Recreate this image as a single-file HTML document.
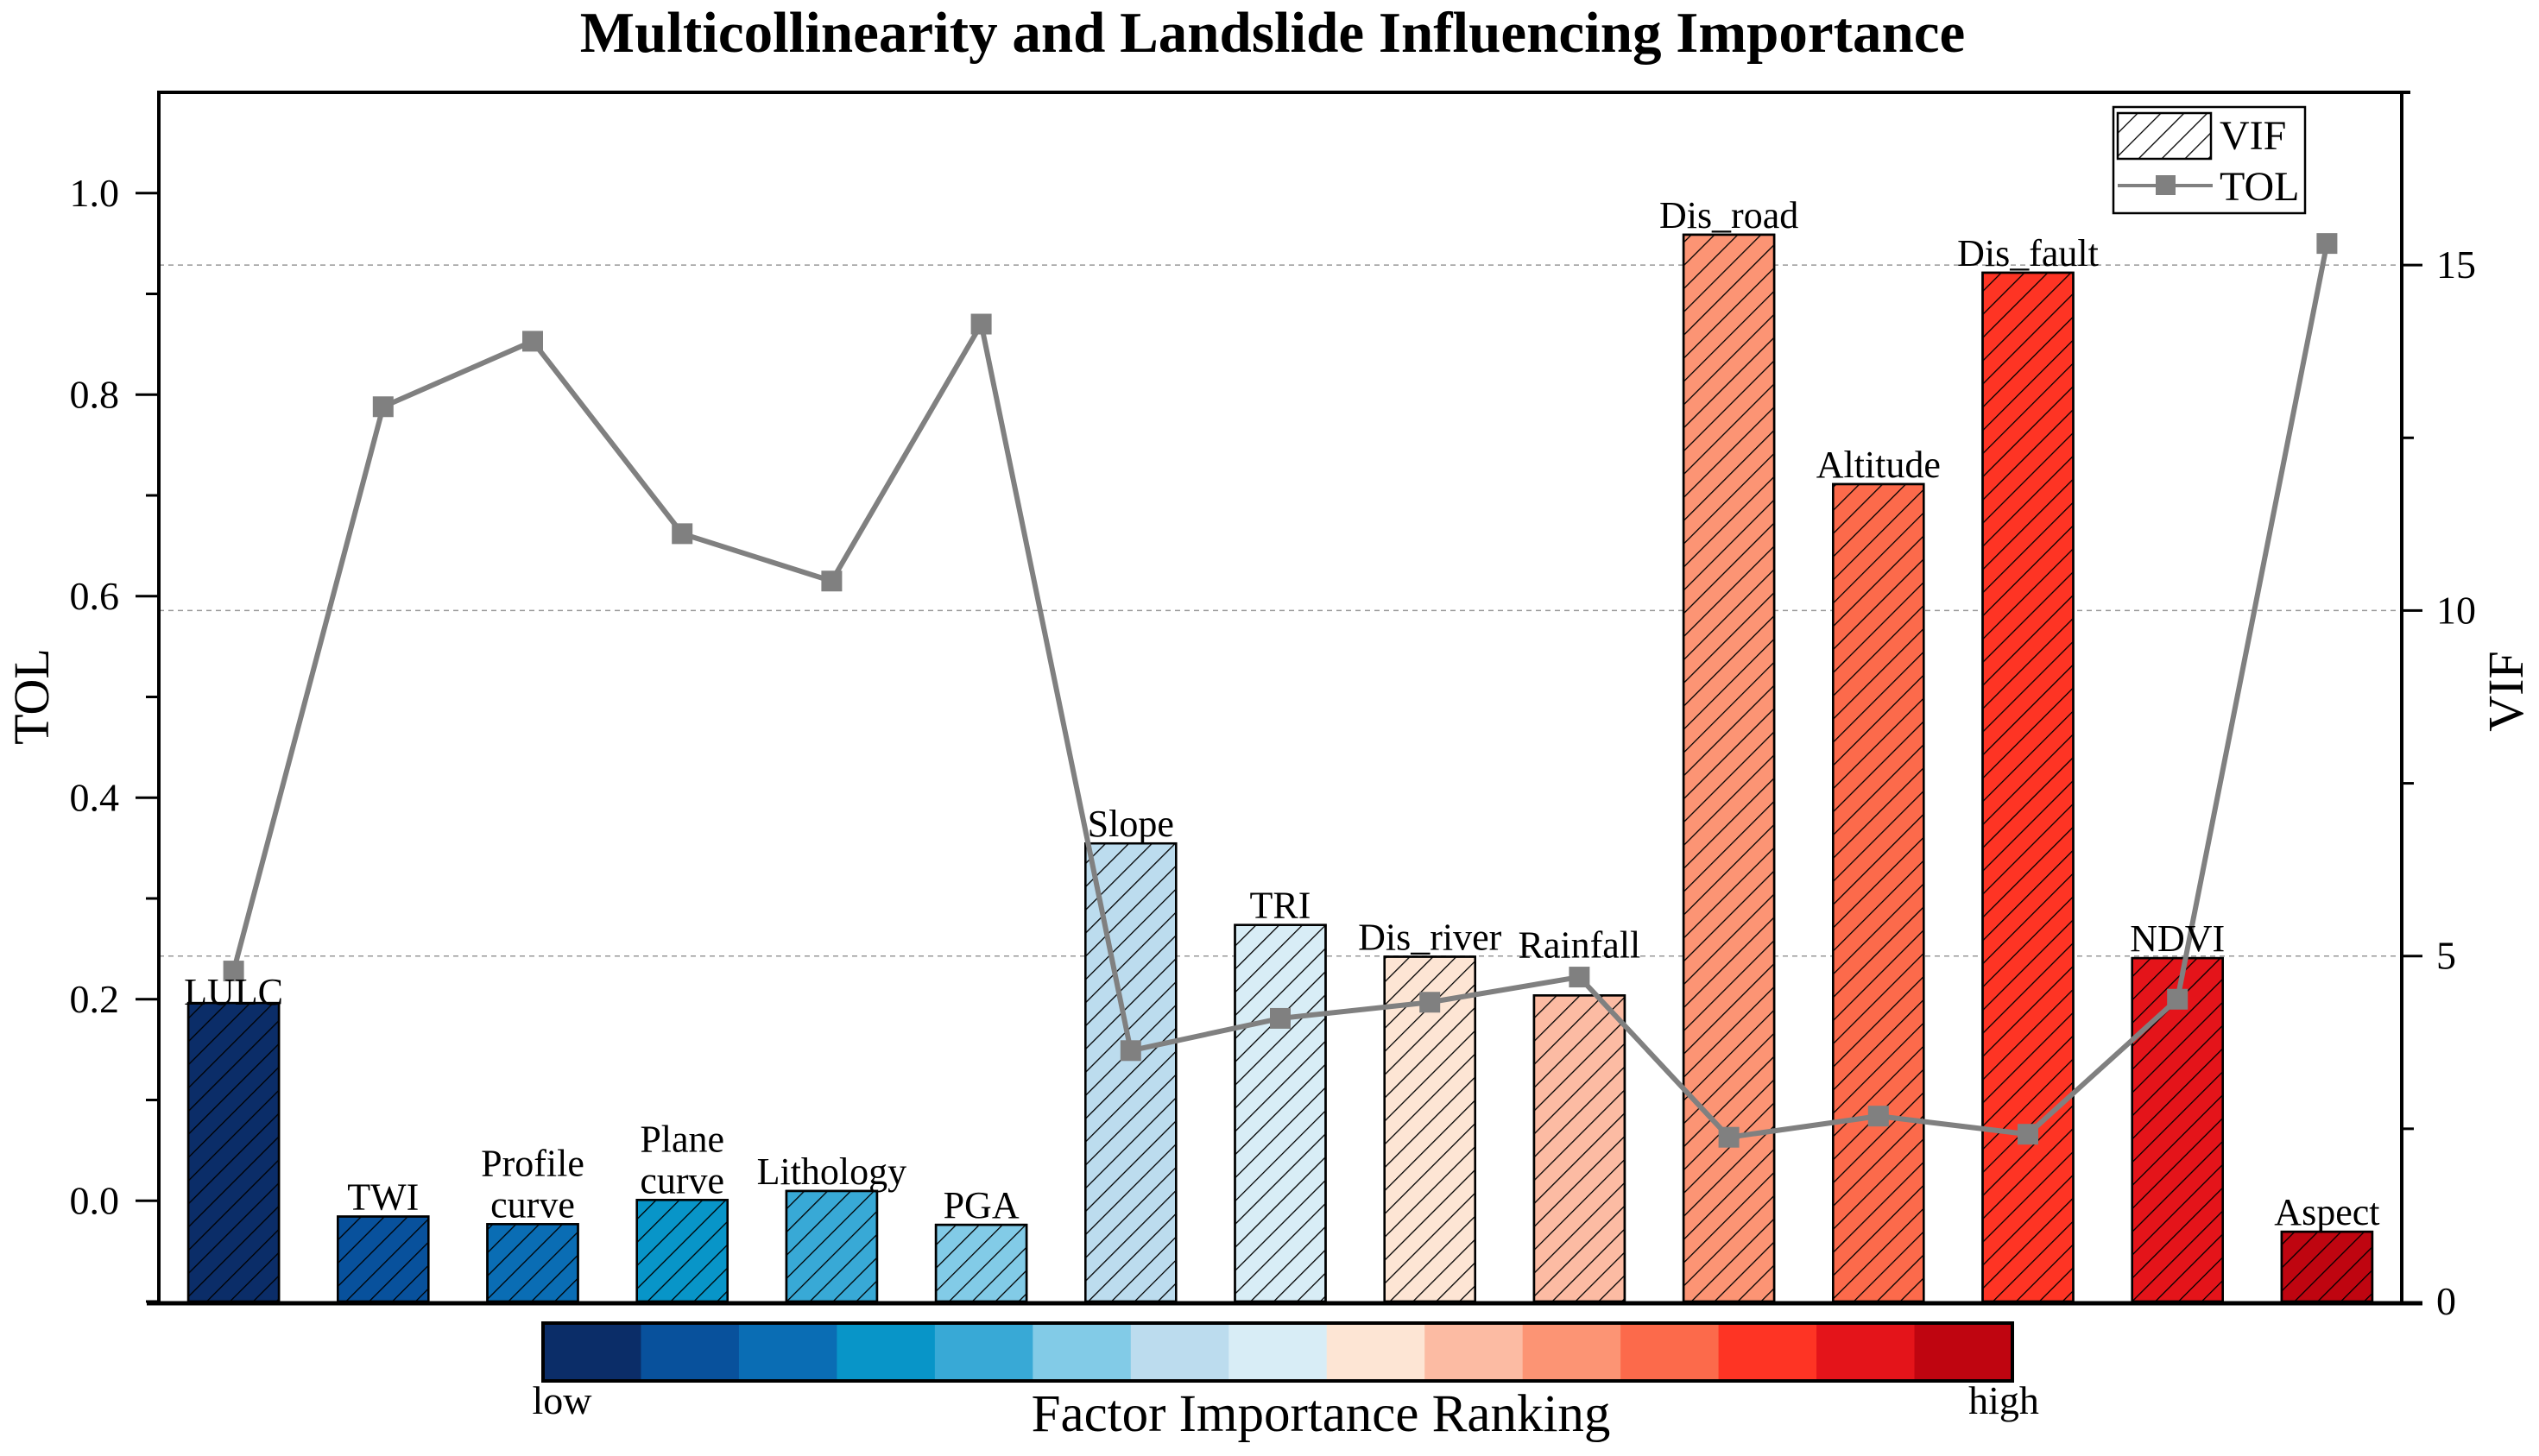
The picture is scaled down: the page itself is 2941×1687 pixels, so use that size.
<!DOCTYPE html>
<html><head><meta charset="utf-8"><style>
html,body{margin:0;padding:0;background:#fff;}
svg{display:block;}
text{font-family:"Liberation Serif",serif;fill:#000;}
</style></head><body>
<svg id="chart" width="2941" height="1687" viewBox="0 0 2941 1687" xmlns="http://www.w3.org/2000/svg">
<defs>
<pattern id="hatch" patternUnits="userSpaceOnUse" width="19" height="19" patternTransform="rotate(45)">
<line x1="0" y1="0" x2="0" y2="19" stroke="#000" stroke-width="2.6"/>
</pattern>
</defs>
<text x="1474" y="60" text-anchor="middle" font-size="67" font-weight="bold">Multicollinearity and Landslide Influencing Importance</text>
<g id="grid"></g>
<g id="bars"></g>
<g id="line"></g>
<g id="axes"></g>
<g id="labels"></g>
<g>
<rect x="2448" y="124" width="222" height="123" fill="#fff" stroke="#000" stroke-width="2.5"/>
<rect x="2453" y="131" width="108" height="53" fill="url(#hatch)" stroke="#000" stroke-width="2.5"/>
<text x="2571" y="173" font-size="48">VIF</text>
<line x1="2453" y1="215" x2="2563" y2="215" stroke="#808080" stroke-width="4"/>
<rect x="2497" y="203" width="23" height="23" fill="#808080"/>
<text x="2571" y="232" font-size="48">TOL</text>
</g>
<g id="colorbar"></g>
<text x="651" y="1638" text-anchor="middle" font-size="46">low</text>
<text x="2321" y="1638" text-anchor="middle" font-size="46">high</text>
<text x="1530" y="1658" text-anchor="middle" font-size="61">Factor Importance Ranking</text>
<text transform="translate(56,807) rotate(-90)" text-anchor="middle" font-size="58">TOL</text>
<text transform="translate(2922,801) rotate(-90)" text-anchor="middle" font-size="58">VIF</text>
</svg>
<script>
const categories=["LULC","TWI","Profile curve","Plane curve","Lithology","PGA","Slope","TRI","Dis_river","Rainfall","Dis_road","Altitude","Dis_fault","NDVI","Aspect"];
const vifValues=[4.32,1.23,1.12,1.47,1.6,1.11,6.63,5.45,4.99,4.43,15.44,11.83,14.89,4.97,1.01];
const tolValues=[0.228,0.788,0.853,0.662,0.615,0.870,0.149,0.181,0.197,0.222,0.063,0.084,0.066,0.200,0.950];
const barColors=["#0b2d68","#08519c","#0a6db4","#0895c8","#38a9d6","#82cbe7","#bcdcee","#d8edf6","#fde5d4","#fcbba3","#fc9474","#fc6a4b","#fe3424","#e4141a","#bf0510"];
const leftTicks=[0.0,0.2,0.4,0.6,0.8,1.0];
const leftTickLabels=["0.0","0.2","0.4","0.6","0.8","1.0"];
const rightTicks=[0,5,10,15];
const rightTickLabels=["0","5","10","15"];
const gridVals=[5,10,15];

const NS="http://www.w3.org/2000/svg";
const L=184,R=2782,T=107,B=1508;
const tolMin=-0.1,tolMax=1.1,vifMax=17.5;
const slot=(R-L)/categories.length, bw=105;
const xC=i=>L+slot*(i+0.5);
const yT=v=>B-(v-tolMin)/(tolMax-tolMin)*(B-T);
const yV=v=>B-v/vifMax*(B-T);
function mk(tag,attrs,parent){const e=document.createElementNS(NS,tag);for(const k in attrs)e.setAttribute(k,attrs[k]);parent.appendChild(e);return e;}
const g=id=>document.getElementById(id);

gridVals.forEach(v=>{
 const l=mk('line',{x1:L,x2:R,y1:yV(v),y2:yV(v),stroke:'#999','stroke-width':1.5,'stroke-dasharray':'6,5'},g('grid'));
 
 
});

categories.forEach((c,i)=>{
 const y=yV(vifValues[i]);
 const r=mk('rect',{x:xC(i)-bw/2,y:y,width:bw,height:B-y,fill:barColors[i],stroke:'#000','stroke-width':2.5},g('bars'));
 
 
 mk('rect',{x:xC(i)-bw/2,y:y,width:bw,height:B-y,fill:'url(#hatch)',stroke:'#000','stroke-width':2.5},g('bars'));
 const parts=c==="Profile curve"?["Profile","curve"]:c==="Plane curve"?["Plane","curve"]:[c];
 const off=c==="LULC"?-2:(c==="Rainfall"?44:8);
 parts.forEach((p,k)=>{
  const t=mk('text',{x:xC(i),y:y-off-(parts.length-1-k)*48,'text-anchor':'middle','font-size':44},g('labels'));
  t.textContent=p;
  
  
 });
});

const pts=tolValues.map((v,i)=>xC(i)+','+yT(v)).join(' ');
const pl=mk('polyline',{points:pts,fill:'none',stroke:'#808080','stroke-width':6},g('line'));


tolValues.forEach((v,i)=>{
 const m=mk('rect',{x:xC(i)-12,y:yT(v)-12,width:24,height:24,fill:'#808080'},g('line'));
 
 
});

const ax=g('axes');
let e;
e=mk('line',{x1:L,x2:L,y1:T,y2:B+2,stroke:'#000','stroke-width':4},ax);

e=mk('line',{x1:R,x2:R,y1:T-2,y2:B+2,stroke:'#000','stroke-width':4},ax);

e=mk('line',{x1:L-2,x2:2792,y1:T,y2:T,stroke:'#000','stroke-width':4},ax);

e=mk('line',{x1:170,x2:2806,y1:B+2,y2:B+2,stroke:'#000','stroke-width':5},ax);

for(let k=0;k<=11;k++){
 const v=-0.1+k*0.1; if(v>1.05)break;
 const major=Math.abs(Math.round(v*10)%2)===0;
 mk('line',{x1:L-(major?27:15),x2:L,y1:yT(v),y2:yT(v),stroke:'#000','stroke-width':3},ax);
}
leftTicks.forEach((v,i)=>{
 const t=mk('text',{x:138,y:yT(v)+15,'text-anchor':'end','font-size':46},ax);
 t.textContent=leftTickLabels[i];
 
 
});
for(let v=2.5;v<17.5;v+=2.5){
 const major=v%5===0;
 mk('line',{x1:R,x2:R+(major?24:14),y1:yV(v),y2:yV(v),stroke:'#000','stroke-width':3},ax);
}
rightTicks.forEach((v,i)=>{
 const t=mk('text',{x:2822,y:yV(v)+15,'font-size':46},ax);
 t.textContent=rightTickLabels[i];
 
 
});

const cb=g('colorbar');
const cbL=629,cbR=2331,cbT=1533,cbB=1600,sw=(cbR-cbL)/barColors.length;
barColors.forEach((c,i)=>{
 const r=mk('rect',{x:cbL+i*sw,y:cbT,width:sw+0.5,height:cbB-cbT,fill:c},cb);
 
 
});
mk('rect',{x:cbL,y:cbT,width:cbR-cbL,height:cbB-cbT,fill:'none',stroke:'#000','stroke-width':4},cb);
</script>
</body></html>
